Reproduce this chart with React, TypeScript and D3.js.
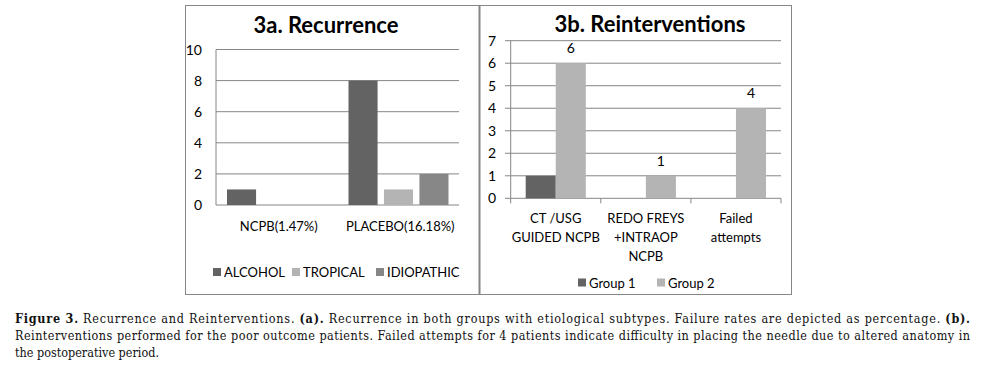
import React from "react";
import * as d3 from "d3";

const catsA = ["NCPB(1.47%)", "PLACEBO(16.18%)"];
const seriesA = ["ALCOHOL", "TROPICAL", "IDIOPATHIC"];
const valuesA = [
  [1, 0, 0],
  [8, 1, 2],
];
const ticksA = [0, 2, 4, 6, 8, 10];
const colorsA = ["#636363", "#b4b4b4", "#878787"];

const catsB = [["CT /USG", "GUIDED NCPB"], ["REDO FREYS", "+INTRAOP", "NCPB"], ["Failed", "attempts"]];
const seriesB = ["Group 1", "Group 2"];
const valuesB = [
  [1, 6],
  [0, 1],
  [0, 4],
];
const ticksB = [0, 1, 2, 3, 4, 5, 6, 7];
const colorsB = ["#636363", "#b4b4b4"];

const captionLine1 = [
  { t: "Figure 3.", b: true },
  { t: " Recurrence and Reinterventions. ", b: false },
  { t: "(a).", b: true },
  { t: " Recurrence in both groups with etiological subtypes. Failure rates are depicted as percentage. ", b: false },
  { t: "(b).", b: true },
];
const captionLine2 =
  "Reinterventions performed for the poor outcome patients. Failed attempts for 4 patients indicate difficulty in placing the needle due to altered anatomy in";
const captionLine3 = "the postoperative period.";

const FONT = "Lato, 'Open Sans', sans-serif";
const GRID = "#868686";

function ChartA() {
  const y = d3.scaleLinear().domain([0, 10]).range([205, 49.5]);
  const x = d3.scaleBand<string>().domain(catsA).range([216, 459]);
  const inner = d3.scaleBand<string>().domain(seriesA).range([11, 111]).paddingInner(0.18);
  const legendStarts = [213, 292, 376];
  return (
    <g fontFamily={FONT}>
      <text x={326} y={33} textAnchor="middle" fontSize={22} fontWeight="bold">3a. Recurrence</text>
      {ticksA.map((t) => (
        <g key={t}>
          <line x1={216} x2={459} y1={y(t)} y2={y(t)} stroke={GRID} strokeWidth={1} />
          <text x={202} y={y(t) + 5} textAnchor="end" fontSize={14}>{t}</text>
        </g>
      ))}
      <line x1={216} x2={216} y1={y(10)} y2={y(0)} stroke={GRID} />
      {catsA.map((c, i) =>
        seriesA.map((s, j) =>
          valuesA[i][j] > 0 ? (
            <rect key={c + s} x={(x(c) as number) + (inner(s) as number)} width={inner.bandwidth()}
              y={y(valuesA[i][j])} height={y(0) - y(valuesA[i][j])} fill={colorsA[j]} />
          ) : null
        )
      )}
      {catsA.map((c) => (
        <text key={c} x={(x(c) as number) + x.bandwidth() / 2 + 2} y={231} textAnchor="middle" fontSize={13}>{c}</text>
      ))}
      {seriesA.map((s, j) => (
        <g key={s}>
          <rect x={legendStarts[j]} y={268} width={8} height={8} fill={colorsA[j]} />
          <text x={legendStarts[j] + 11} y={276.5} fontSize={13}>{s}</text>
        </g>
      ))}
    </g>
  );
}

function ChartB() {
  const y = d3.scaleLinear().domain([0, 7]).range([198.3, 40.7]);
  const keys = catsB.map((c) => c.join(" "));
  const x = d3.scaleBand<string>().domain(keys).range([510.7, 781]);
  const inner = d3.scaleBand<string>().domain(seriesB).range([15, x.bandwidth() - 15]);
  const legendStarts = [578, 657];
  return (
    <g fontFamily={FONT}>
      <text x={650} y={32} textAnchor="middle" fontSize={22} fontWeight="bold">3b. Reinterventions</text>
      {ticksB.map((t) => (
        <g key={t}>
          <line x1={505} x2={781} y1={y(t)} y2={y(t)} stroke={GRID} strokeWidth={1} />
          <text x={496} y={y(t) + 5} textAnchor="end" fontSize={14}>{t}</text>
        </g>
      ))}
      <line x1={510.7} x2={510.7} y1={y(7)} y2={y(0)} stroke={GRID} />
      {[...keys.map((k) => x(k) as number), 781].map((v, i) => (
        <line key={i} x1={v} x2={v} y1={y(0)} y2={y(0) + 5} stroke={GRID} />
      ))}
      {keys.map((k, i) =>
        seriesB.map((s, j) =>
          valuesB[i][j] > 0 ? (
            <rect key={k + s} x={(x(k) as number) + (inner(s) as number)} width={inner.bandwidth()}
              y={y(valuesB[i][j])} height={y(0) - y(valuesB[i][j])} fill={colorsB[j]} />
          ) : null
        )
      )}
      {keys.map((k, i) =>
        valuesB[i][1] > 0 ? (
          <text key={k + "lab"} x={(x(k) as number) + (inner("Group 2") as number) + inner.bandwidth() / 2}
            y={y(valuesB[i][1]) - 10} textAnchor="middle" fontSize={14}>{valuesB[i][1]}</text>
        ) : null
      )}
      {catsB.map((lines, i) => (
        <text key={i} x={(x(keys[i]) as number) + x.bandwidth() / 2} textAnchor="middle" fontSize={13}>
          {lines.map((l, li) => (
            <tspan key={li} x={(x(keys[i]) as number) + x.bandwidth() / 2} y={223 + li * 19}>{l}</tspan>
          ))}
        </text>
      ))}
      {seriesB.map((s, j) => (
        <g key={s}>
          <rect x={legendStarts[j]} y={278.5} width={8} height={8} fill={colorsB[j]} />
          <text x={legendStarts[j] + 11} y={287.5} fontSize={13}>{s}</text>
        </g>
      ))}
    </g>
  );
}

export default function App() {
  return (
    <svg width={985} height={373} style={{ position: "absolute", left: 0, top: 0, background: "#fff" }}>
      <rect x={0} y={0} width={985} height={373} fill="#fff" />
      <rect x={185.5} y={5.5} width={606} height={289} fill="none" stroke={GRID} strokeWidth={1} />
      <line x1={479.5} x2={479.5} y1={5} y2={295} stroke={GRID} strokeWidth={2} />
      <ChartA />
      <ChartB />
      <g fontFamily="'DejaVu Serif Condensed', 'DejaVu Serif', serif" fontSize={12.5} fill="#111">
        <text x={15} y={323} textLength={955} lengthAdjust="spacing">
          {captionLine1.map((p, i) => (
            <tspan key={i} fontWeight={p.b ? "bold" : "normal"}>{p.t}</tspan>
          ))}
        </text>
        <text x={15} y={340} textLength={955} lengthAdjust="spacing">{captionLine2}</text>
        <text x={15} y={357}>{captionLine3}</text>
      </g>
    </svg>
  );
}
